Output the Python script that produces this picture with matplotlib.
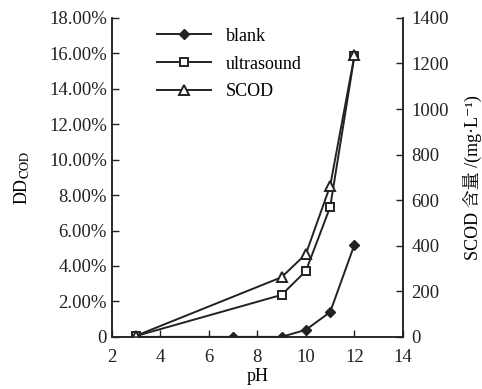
import matplotlib
matplotlib.use('Agg')
import matplotlib.pyplot as plt
from matplotlib.ticker import FuncFormatter

plt.rcParams['font.family'] = ['Liberation Serif', 'Noto Serif CJK SC', 'Noto Sans CJK SC', 'DejaVu Sans']
plt.rcParams['mathtext.fontset'] = 'stix'
plt.rcParams['font.size'] = 13

# data
ph_blank = [3, 7, 9, 10, 11, 12]
blank = [0.0, 0.0, 0.0, 0.4, 1.4, 5.2]
ph_us = [3, 9, 10, 11, 12]
ultrasound = [0.05, 2.37, 3.72, 7.33, 15.85]
ph_scod = [3, 9, 10, 11, 12]
scod = [5, 262, 364, 663, 1235]

fig = plt.figure(figsize=(4.82, 3.89), dpi=100)
ax = fig.add_axes([0.232, 0.134, 0.604, 0.82])
ax2 = ax.twinx()

l1, = ax.plot(ph_blank, blank, color='#222222', lw=1.4, marker='D', ms=5,
              mfc='#222222', label='blank')
l2, = ax.plot(ph_us, ultrasound, color='#222222', lw=1.4, marker='s', ms=6,
              mfc='white', mew=1.4, label='ultrasound')
l3, = ax2.plot(ph_scod, scod, color='#222222', lw=1.4, marker='^', ms=6.5,
               mfc='white', mew=1.4, label='SCOD')

ax.set_xlim(2, 14)
ax.set_ylim(0, 18)
ax2.set_ylim(0, 1400)
ax.set_xticks(range(2, 15, 2))
ax.set_yticks(range(0, 19, 2))
ax2.set_yticks(range(0, 1401, 200))
ax.yaxis.set_major_formatter(FuncFormatter(lambda v, p: '0' if v == 0 else '%.2f%%' % v))

for a in (ax, ax2):
    a.spines['top'].set_visible(False)
    a.tick_params(direction='in', length=5, width=1, colors='#222222', labelsize=13.5)
    for s in a.spines.values():
        s.set_linewidth(1.1)
        s.set_color('#222222')
ax.tick_params(axis='x', pad=9)
ax2.tick_params(axis='y', pad=6)

ax.set_xlabel('pH', labelpad=1)
ax.set_ylabel('DD$_{\\mathrm{COD}}$', labelpad=12)
ax2.set_ylabel('SCOD 含量 /(mg·L⁻¹)', labelpad=10)

ax.legend(handles=[l1, l2, l3], loc='upper left', bbox_to_anchor=(0.1, 1.02),
          frameon=False, handlelength=3.0, labelspacing=0.6, fontsize=13)

fig.savefig('out.png', dpi=100)
